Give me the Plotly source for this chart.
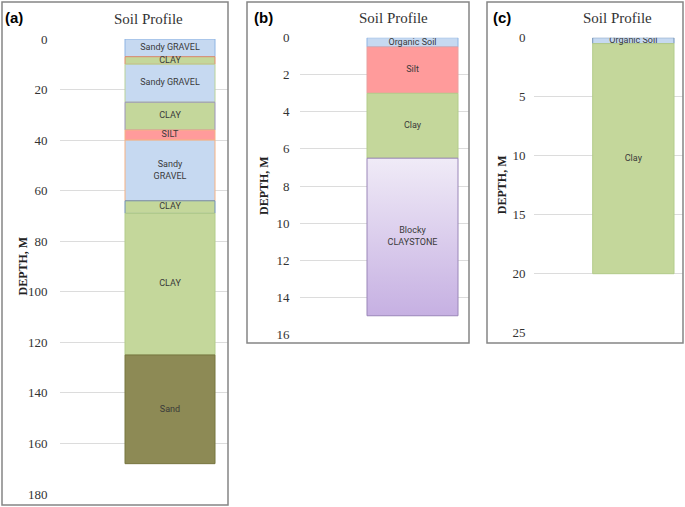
import plotly.graph_objects as go

W, H = 685, 507

# ---------------- data ----------------
# Panel (a)
a_labels = ["Sandy GRAVEL", "CLAY", "Sandy GRAVEL", "CLAY", "SILT", "Sandy<br>GRAVEL", "CLAY", "CLAY", "Sand"]
a_top = [0, 7, 10, 25, 36, 40, 64, 69, 125]
a_bottom = [7, 10, 25, 36, 40, 64, 69, 125, 168]
a_fill = ["#c6d9f1", "#c4d79b", "#c6d9f1", "#c4d79b", "#ff9b9b", "#c6d9f1", "#c4d79b", "#c4d79b", "#8d8a55"]
a_line = ["#8eb4e3", "#e0896a", "#b9d29a", "#9a94b8", "#f4b183", "#f4b183", "#6f8fb3", "#b3cc8a", "#77763f"]
a_ticks = [0, 20, 40, 60, 80, 100, 120, 140, 160, 180]

# Panel (b)
b_labels = ["Organic Soil", "Silt", "Clay", "Blocky<br>CLAYSTONE"]
b_top = [0, 0.5, 3, 6.5]
b_bottom = [0.5, 3, 6.5, 15]
b_fill = ["#c6d9f1", "#ff9b9b", "#c4d79b", "#d9ccec"]
b_line = ["#8eb4e3", "#e9a0a0", "#b3cc8a", "#9a86b8"]
b_ticks = [0, 2, 4, 6, 8, 10, 12, 14, 16]

# Panel (c)
c_labels = ["Organic Soil", "Clay"]
c_top = [0, 0.5]
c_bottom = [0.5, 20]
c_fill = ["#c6d9f1", "#c4d79b"]
c_line = ["#6f8fb3", "#b3cc8a"]
c_ticks = [0, 5, 10, 15, 20, 25]

# ---------------- layout helpers ----------------
def px(x):
    return x / W

def py(y):
    return 1 - y / H

SERIF = "Liberation Serif, Times New Roman, serif"
SANS = "Roboto, Arial, sans-serif"

panels = [
    dict(name="a", labels=a_labels, top=a_top, bottom=a_bottom, fill=a_fill, line=a_line, ticks=a_ticks,
         plot=(60, 228, 39, 494), bar=(125, 215), frame=(2, 228, 2, 505),
         title_x=148, title_y=19, lab_x=3, ytitle_x=22, standoff=9),
    dict(name="b", labels=b_labels, top=b_top, bottom=b_bottom, fill=b_fill, line=b_line, ticks=b_ticks,
         plot=(300, 469, 37.7, 334.3), bar=(367, 458), frame=(247, 469, 2, 343),
         title_x=393, title_y=18, lab_x=252, ytitle_x=264, standoff=7),
    dict(name="c", labels=c_labels, top=c_top, bottom=c_bottom, fill=c_fill, line=c_line, ticks=c_ticks,
         plot=(534, 683, 37.7, 332.7), bar=(592.7, 674), frame=(487, 683, 2, 343),
         title_x=617, title_y=18, lab_x=491, ytitle_x=502, standoff=5),
]

fig = go.Figure()
shapes = []
annotations = []

for i, p in enumerate(panels):
    k = "" if i == 0 else str(i + 1)
    xa, ya = "x" + k, "y" + k
    x0, x1, y0, y1 = p["plot"]
    bx0, bx1 = p["bar"]
    xc = ((bx0 + bx1) / 2 - x0) / (x1 - x0)
    bw = (bx1 - bx0) / (x1 - x0)

    thick = [b - t for t, b in zip(p["top"], p["bottom"])]
    fills = list(p["fill"])
    lines = list(p["line"])
    if p["name"] == "b":
        fig.add_trace(go.Bar(
            x=[xc] * 3, y=thick[:3], base=p["top"][:3], width=bw,
            marker=dict(color=fills[:3], line=dict(color=lines[:3], width=1)),
            xaxis=xa, yaxis=ya, showlegend=False, hoverinfo="skip"))
        t, b = p["top"][3], p["bottom"][3]
        fig.add_trace(go.Scatter(
            x=[xc - bw / 2, xc + bw / 2, xc + bw / 2, xc - bw / 2, xc - bw / 2],
            y=[t, t, b, b, t], mode="lines", fill="toself",
            fillgradient=dict(type="vertical", start=t, stop=b,
                              colorscale=[[0, "#f0ebf7"], [1, "#c6b0e2"]]),
            line=dict(color=lines[3], width=1),
            xaxis=xa, yaxis=ya, showlegend=False, hoverinfo="skip"))
    else:
        fig.add_trace(go.Bar(
            x=[xc] * len(thick), y=thick, base=p["top"], width=bw,
            marker=dict(color=fills, line=dict(color=lines, width=1)),
            xaxis=xa, yaxis=ya, showlegend=False, hoverinfo="skip"))

    mids = [(t + b) / 2 for t, b in zip(p["top"], p["bottom"])]
    fig.add_trace(go.Scatter(
        x=[xc] * len(mids), y=mids, mode="text", text=p["labels"],
        textfont=dict(family=SANS, size=9, color="#3a3a3a"),
        xaxis=xa, yaxis=ya, showlegend=False, hoverinfo="skip"))

    ymax = p["ticks"][-1]
    fig.layout["xaxis" + k] = dict(domain=[px(x0), px(x1)], range=[0, 1], visible=False,
                                   anchor=ya, fixedrange=True, automargin=False)
    fig.layout["yaxis" + k] = dict(domain=[py(y1), py(y0)], range=[ymax, 0],
                                   tickvals=p["ticks"], showgrid=True, gridcolor="#dcdcdc",
                                   gridwidth=1, zeroline=False, showline=False,
                                   ticks="outside", ticklen=p["standoff"], tickcolor="rgba(0,0,0,0)",
                                   tickfont=dict(family=SERIF, size=13, color="#333333"),
                                   anchor=xa, fixedrange=True, automargin=False)

    fx0, fx1, fy0, fy1 = p["frame"]
    shapes.append(dict(type="rect", xref="paper", yref="paper",
                       x0=px(fx0), x1=px(fx1), y0=py(fy1), y1=py(fy0),
                       line=dict(color="#858585", width=1.5), fillcolor="rgba(0,0,0,0)"))
    annotations.append(dict(text="Soil Profile", xref="paper", yref="paper",
                            x=px(p["title_x"]), y=py(p["title_y"]), xanchor="center", yanchor="middle",
                            showarrow=False, font=dict(family=SERIF, size=15, color="#333333")))
    annotations.append(dict(text="<b>(%s)</b>" % p["name"], xref="paper", yref="paper",
                            x=px(p["lab_x"]), y=py(18), xanchor="left", yanchor="middle",
                            showarrow=False, font=dict(family="Liberation Sans, Arial, sans-serif",
                                                       size=15, color="#000000")))
    annotations.append(dict(text="<b>DEPTH, M</b>", xref="paper", yref="paper",
                            x=px(p["ytitle_x"]), y=py((y0 + y1) / 2), xanchor="center", yanchor="middle",
                            textangle=-90, showarrow=False,
                            font=dict(family=SERIF, size=12, color="#222222")))

fig.update_layout(width=W, height=H, margin=dict(l=0, r=0, t=0, b=0, autoexpand=False),
                  paper_bgcolor="white", plot_bgcolor="white",
                  barmode="overlay", shapes=shapes, annotations=annotations)

fig.write_html("out.html", config={"displayModeBar": False, "responsive": False},
               post_script="document.body.style.margin='0px';document.body.style.overflow='hidden';")
